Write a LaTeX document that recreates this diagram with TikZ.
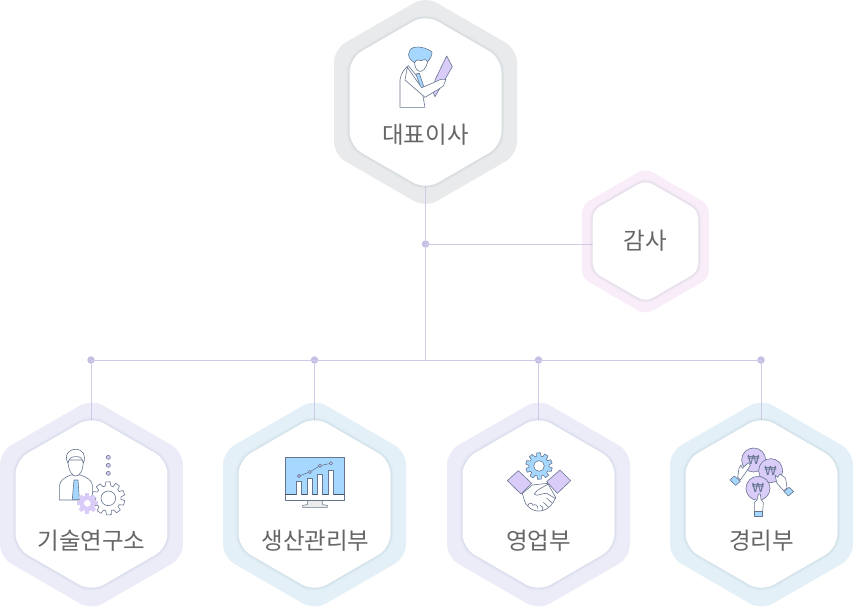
\documentclass[tikz,border=0pt]{standalone}
\usepackage{fontspec}
\usepackage{xcolor}
\usetikzlibrary{shapes.geometric, calc}
\newfontfamily\krfont{Noto Sans CJK KR}
\newfontfamily\wonfont{DejaVu Sans}
\definecolor{ringgray}{HTML}{E9EAEB}
\definecolor{ringpurple}{HTML}{ECECF9}
\definecolor{ringblue}{HTML}{E3F0F7}
\definecolor{ringpink}{HTML}{F8EDF8}
\definecolor{linkline}{HTML}{CFCAE8}
\definecolor{linkdot}{HTML}{C5BFE3}
\definecolor{labelgray}{HTML}{666666}
\definecolor{iconline}{HTML}{66758F}
\definecolor{iconblue}{HTML}{A6D8FF}
\definecolor{iconlilac}{HTML}{D9CCF9}
\definecolor{hexshade}{HTML}{7F93A8}
\tikzset{
  hexbase/.style={regular polygon, regular polygon sides=6, regular polygon rotate=30, inner sep=0pt},
  bigring/.style={hexbase, fill=#1, minimum size=211.3pt, rounded corners=13pt},
  smallring/.style={hexbase, fill=#1, minimum size=146.6pt, rounded corners=8pt},
  hexshadow/.style={
    preaction={draw=hexshade, line width=6pt, opacity=.03},
    preaction={draw=hexshade, line width=4pt, opacity=.05},
    preaction={draw=hexshade, line width=2pt, opacity=.09}},
  biginner/.style={hexbase, fill=white, hexshadow, minimum size=175.5pt, rounded corners=14pt},
  smallinner/.style={hexbase, fill=white, hexshadow, minimum size=122pt, rounded corners=8pt},
  deptlabel/.style={font=\krfont\fontsize{23.5}{24}\selectfont, text=labelgray, inner sep=0pt},
  linkdotnode/.style={circle, fill=linkdot, inner sep=0pt, minimum size=7.5pt},
  link/.style={draw=linkline, line width=.9pt},
  icon/.style={shift={#1}, x=.3333pt, y=-.3333pt, draw=iconline, line width=.6pt, line join=round},
  wonmark/.style={font=\wonfont\fontsize{12.5}{12.5}\selectfont, text=iconline, inner sep=0pt}
}
% gear: centre, outer radius, inner radius, hole radius, colours
\newcommand{\drawgear}[6]{
  \filldraw[fill=#6] ($#1+(4:#3)$) \foreach \a in {0,36,...,324} {
    -- ($#1+(\a+4:#3)$) -- ($#1+(\a+8:#2)$) -- ($#1+(\a+24:#2)$) -- ($#1+(\a+30:#3)$)
  } -- cycle;
  \filldraw[fill=#5] #1 circle (#4);
}
\begin{document}
\begin{tikzpicture}[x=1pt, y=-1pt]
\useasboundingbox (0,0) rectangle (853,606);

% Rings
\node[bigring=ringgray] (ceoring) at (425.5,102) {};
\node[smallring=ringpink] (auditring) at (645.5,241.5) {};
\node[bigring=ringpurple] (labring) at (91.5,504.5) {};
\node[bigring=ringblue] (prodring) at (314.5,504.5) {};
\node[bigring=ringpurple] (salesring) at (538.5,504.5) {};
\node[bigring=ringblue] (acctring) at (761.5,504.5) {};

% Junctions
\node[linkdotnode] (hub) at (425.5,244) {};
\node[linkdotnode] (labdot) at (91,360) {};
\node[linkdotnode] (proddot) at (314.5,360) {};
\node[linkdotnode] (salesdot) at (538.5,360) {};
\node[linkdotnode] (acctdot) at (761,360) {};
\coordinate (trunk) at (425.5,359.5);

% Links
\draw[link] (ceoring.center) -- (hub.center) -- (trunk);
\draw[link] (hub.center) -- (hub.center -| auditring.center);
\draw[link] (labdot.center) -- (acctdot.center);
\draw[link] (labdot.center) -- (labdot.center |- labring.center);
\draw[link] (proddot.center) -- (prodring.center);
\draw[link] (salesdot.center) -- (salesring.center);
\draw[link] (acctdot.center) -- (acctdot.center |- acctring.center);

% Inner hexagons
\node[biginner] (ceo) at (425.5,102) {};
\node[smallinner] (audit) at (645.5,241) {};
\node[biginner] (lab) at (91.5,504) {};
\node[biginner] (prod) at (314.5,504) {};
\node[biginner] (sales) at (538.5,504) {};
\node[biginner] (acct) at (761.5,504) {};

% Labels
\node[deptlabel] (ceolabel) at (425.5,135) {대표이사};
\node[deptlabel] (auditlabel) at (645.5,241) {감사};
\node[deptlabel] (lablabel) at (91.5,541) {기술연구소};
\node[deptlabel] (prodlabel) at (315.5,541) {생산관리부};
\node[deptlabel] (saleslabel) at (538.5,541) {영업부};
\node[deptlabel] (acctlabel) at (761.5,541) {경리부};

% CEO icon
\begin{scope}[icon={(320,0)}]
\filldraw[fill=white] (240,322) -- (240,240) .. controls (242,220) and (255,205) .. (265,197) -- (300,240) -- (315,322) -- cycle;
\filldraw[fill=iconblue] (288,222) -- (298,220) -- (312,262) -- (303,265) -- cycle;
\filldraw[fill=white] (284,180) .. controls (282,205) and (293,216) .. (303,214) .. controls (316,210) and (322,195) .. (324,176) -- cycle;
\filldraw[fill=iconblue] (284,188) .. controls (258,175) and (262,148) .. (282,142) .. controls (300,138) and (325,146) .. (336,156) .. controls (336,168) and (330,178) .. (322,186) .. controls (320,176) and (312,178) .. (304,182) .. controls (296,178) and (288,178) .. (284,188) -- cycle;
\filldraw[fill=iconlilac] (380,168) -- (397,200) -- (345,290) -- (340,278) -- (345,240) -- cycle;
\filldraw[fill=white] (255,240) -- (262,202) -- (305,263) -- (345,246) -- (362,238) -- (378,238) -- (370,258) -- (358,266) -- (315,292) -- cycle;
\end{scope}

% Research icon
\begin{scope}[icon={(0,400)}]
\filldraw[fill=white] (178,300) -- (178,258) .. controls (180,240) and (195,232) .. (212,225) -- (242,225) .. controls (260,232) and (276,240) .. (278,258) -- (278,300) -- cycle;
\filldraw[fill=iconblue] (222,240) -- (234,240) -- (238,298) -- (217,298) -- cycle;
\filldraw[fill=white] (204,180) .. controls (204,215) and (218,228) .. (227,228) .. controls (238,228) and (250,215) .. (250,180) -- cycle;
\filldraw[fill=white] (204,190) .. controls (192,165) and (205,148) .. (227,148) .. controls (248,148) and (260,165) .. (250,190) .. controls (248,175) and (240,168) .. (225,170) .. controls (215,170) and (206,175) .. (204,190) -- cycle;
\foreach \y in {172,196,220} \filldraw[fill=iconlilac] (325,\y) circle (6);
\drawgear{(325,295)}{50}{38}{22}{white}{white}
\fill[iconlilac] (262,310) circle (24);
\foreach \a in {0,45,...,315} \fill[iconlilac] (262,310) ++(\a:22) ++(\a+90:6) -- ++(\a:9) -- ++(\a-90:12) -- ++(\a:-9) -- cycle;
\fill[white] (262,310) circle (10);
\end{scope}

% Production icon
\begin{scope}[icon={(220,400)}]
\filldraw[fill=white!92!black] (262,302) -- (308,302) -- (308,314) -- (322,316) -- (322,322) -- (248,322) -- (248,316) -- (262,314) -- cycle;
\filldraw[fill=white] (196,172) rectangle (374,302);
\fill[iconblue] (197,173) rectangle (373,284);
\draw[line width=1pt, draw=iconline!70!black] (196,284) -- (374,284);
\foreach \xa/\xb/\yt in {229/244/245, 262/277/235, 293/308/223, 325/341/211} \filldraw[fill=white] (\xa,284) -- (\xa,\yt) -- (\xb,\yt) -- (\xb,284);
\draw (237,228) -- (269,216) -- (300,197) -- (333,190);
\foreach \x/\y in {237/228, 269/216, 300/197, 333/190} \filldraw[fill=iconlilac] (\x,\y) circle (5);
\end{scope}

% Sales icon
\begin{scope}[icon={(445,400)}]
\drawgear{(282,198)}{40}{30}{16}{white}{iconblue}
\filldraw[fill=white] (232,280) .. controls (238,300) and (240,312) .. (248,318) .. controls (258,330) and (275,336) .. (292,332) .. controls (310,328) and (325,312) .. (332,292) -- (308,250) -- (262,255) -- cycle;
\draw (268,282) .. controls (275,268) and (295,262) .. (310,252);
\draw (268,282) .. controls (272,292) and (295,278) .. (305,280) -- (332,296);
\draw (248,318) .. controls (252,306) and (262,308) .. (264,316) .. controls (272,310) and (280,318) .. (278,326) (292,332) .. controls (296,322) and (292,318) .. (285,316) (310,322) -- (295,306) (322,310) -- (305,294);
\filldraw[fill=iconlilac] (220,212) -- (260,250) -- (228,282) -- (187,242) -- cycle;
\filldraw[fill=iconlilac] (345,210) -- (377,242) -- (337,280) -- (305,245) -- cycle;
\end{scope}

% Accounting icon
\begin{scope}[icon={(665,400)}]
\filldraw[fill=iconlilac] (266,180) circle (36);
\filldraw[fill=iconlilac] (317,212) circle (36);
\filldraw[fill=iconlilac] (279,265) circle (36);
\node[wonmark] (wona) at (266,181) {₩};
\node[wonmark] (wonb) at (317,213) {₩};
\node[wonmark] (wonc) at (279,263) {₩};
\filldraw[fill=white] (218,232) -- (222,205) -- (228,195) -- (232,205) -- (250,188) -- (256,196) -- (246,212) -- (226,240) -- cycle;
\filldraw[fill=iconblue] (195,240) -- (208,228) -- (226,244) -- (212,256) -- cycle;
\filldraw[fill=white] (330,225) -- (338,232) -- (345,222) -- (362,235) -- (366,264) -- (356,272) -- (336,250) -- cycle;
\filldraw[fill=iconblue] (357,274) -- (372,262) -- (386,274) -- (370,288) -- cycle;
\filldraw[fill=white] (268,335) -- (268,308) -- (276,300) -- (280,282) -- (286,282) -- (288,298) -- (295,308) -- (293,335) -- cycle;
\filldraw[fill=iconblue] (268,335) rectangle (293,350);
\end{scope}

\end{tikzpicture}
\end{document}
